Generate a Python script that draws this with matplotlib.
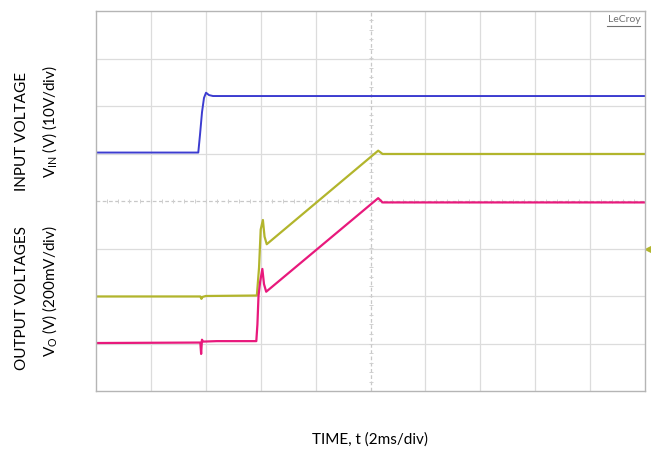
"""Start-up waveforms captured on the scope, redrawn."""

import numpy as np
import matplotlib
matplotlib.use("Agg")
import matplotlib.pyplot as plt

plt.rcParams["font.family"] = ["Lato", "DejaVu Sans"]

# traces in scope divisions (x: 0..10 div, y: -4..4 div)
vin_t = [0.0, 1.863, 1.894, 1.931, 1.967, 2.004, 2.058, 2.131, 10.0]
vin_v = [1.02, 1.02, 1.39, 1.87, 2.17, 2.28, 2.23, 2.21, 2.21]

vo1_t = [0.0, 1.90, 1.92, 1.94, 2.00, 2.93, 2.97, 3.00, 3.04, 3.07, 3.11,
         5.14, 5.22, 10.0]
vo1_v = [-2.01, -2.01, -2.06, -2.02, -2.0, -1.99, -1.4, -0.6, -0.40, -0.75,
         -0.91, 1.06, 0.99, 0.99]

vo2_t = [0.0, 1.90, 1.915, 1.93, 1.95, 2.20, 2.92, 2.94, 2.96, 2.99, 3.03,
         3.06, 3.10, 5.14, 5.22, 10.0]
vo2_v = [-2.99, -2.98, -3.22, -2.92, -2.96, -2.95, -2.95, -2.6, -2.0, -1.7,
         -1.43, -1.75, -1.91, 0.06, -0.03, -0.03]

BLUE = "#3c3cd0"
YELLOW = "#b2b52c"
PINK = "#e8197c"
GRID = "#dcdcdc"

fig = plt.figure(figsize=(6.51, 4.53), dpi=100)
ax = fig.add_axes([96 / 651, 62 / 453, 549 / 651, 380 / 453])
ax.set_xlim(0, 10)
ax.set_ylim(-4, 4)

# graticule
for x in range(1, 10):
    if x != 5:
        ax.axvline(x, color=GRID, lw=0.9, zorder=0)
for y in range(-3, 4):
    if y != 0:
        ax.axhline(y, color=GRID, lw=0.9, zorder=0)
ax.axvline(5, color="#c8c8c8", lw=0.9, ls=(0, (3, 2)), zorder=0)
ax.axhline(0, color="#c8c8c8", lw=0.9, ls=(0, (3, 2)), zorder=0)
minor_x = np.arange(0, 10.01, 0.2)
minor_y = np.arange(-4, 4.01, 0.2)
ax.plot(minor_x, np.zeros_like(minor_x), ls="none", marker="|",
        ms=2.5, color="#d0d0d0", mew=0.7, zorder=0)
ax.plot(np.full_like(minor_y, 5), minor_y, ls="none", marker="_",
        ms=2.5, color="#d0d0d0", mew=0.7, zorder=0)

for spine in ax.spines.values():
    spine.set_color("#b5b5b5")
    spine.set_linewidth(1.0)
ax.set_xticks([])
ax.set_yticks([])

ax.plot(vin_t, vin_v, color=BLUE, lw=1.4)
ax.plot(vo1_t, vo1_v, color=YELLOW, lw=1.6)
ax.plot(vo2_t, vo2_v, color=PINK, lw=1.6)

# channel ground marker on the right edge
ax.plot([10.06], [-1.0], marker="<", ms=4, color=YELLOW, clip_on=False)

ax.text(0.992, 0.99, "LeCroy", transform=ax.transAxes, ha="right",
        va="top", fontsize=7.5, color="#707070")
ax.plot([0.93, 0.99], [0.96, 0.96], transform=ax.transAxes,
        color="#707070", lw=0.8)

fig.text(370 / 651, 1 - 440 / 453, "TIME, t (2ms/div)", ha="center",
         va="center", fontsize=11)
fig.text(22 / 651, 1 - 132 / 453, "INPUT VOLTAGE", rotation=90,
         ha="center", va="center", fontsize=11)
fig.text(50 / 651, 1 - 122 / 453, r"V$_{\mathregular{IN}}$ (V) (10V/div)",
         rotation=90, ha="center", va="center", fontsize=11)
fig.text(22 / 651, 1 - 298 / 453, "OUTPUT VOLTAGES", rotation=90,
         ha="center", va="center", fontsize=11)
fig.text(50 / 651, 1 - 291 / 453, r"V$_{\mathregular{O}}$ (V) (200mV/div)",
         rotation=90, ha="center", va="center", fontsize=11)

fig.savefig("out.png", dpi=100)
